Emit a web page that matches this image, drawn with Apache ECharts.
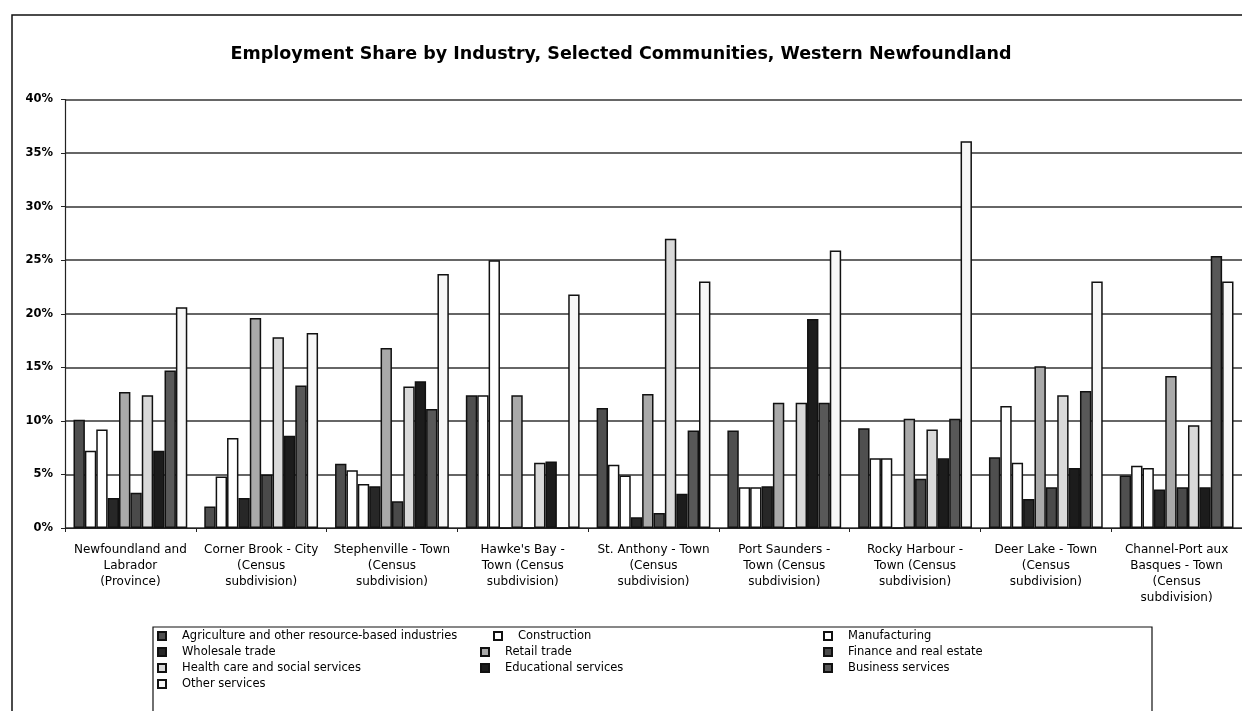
<!DOCTYPE html>
<html>
<head>
<meta charset="utf-8">
<script src="https://cdn.jsdelivr.net/npm/echarts@6/dist/echarts.min.js"></script>
<style>
html,body{margin:0;padding:0;background:#fff;}
#chart{width:1242px;height:711px;}
</style>
</head>
<body>
<div id="chart"></div>
<script>
const categories = [
  "Newfoundland and\nLabrador\n(Province)",
  "Corner Brook - City\n(Census\nsubdivision)",
  "Stephenville - Town\n(Census\nsubdivision)",
  "Hawke's Bay -\nTown (Census\nsubdivision)",
  "St. Anthony - Town\n(Census\nsubdivision)",
  "Port Saunders -\nTown (Census\nsubdivision)",
  "Rocky Harbour -\nTown (Census\nsubdivision)",
  "Deer Lake - Town\n(Census\nsubdivision)",
  "Channel-Port aux\nBasques - Town\n(Census\nsubdivision)"
];
const seriesNames = [
  "Agriculture and other resource-based industries",
  "Construction",
  "Manufacturing",
  "Wholesale trade",
  "Retail trade",
  "Finance and real estate",
  "Health care and social services",
  "Educational services",
  "Business services",
  "Other services"
];
const agriculture   = [10.1, 2.0, 6.0, 12.4, 11.2, 9.1, 9.3, 6.6, 4.9];
const construction  = [7.2, 4.8, 5.4, 12.4, 5.9, 3.8, 6.5, 11.4, 5.8];
const manufacturing = [9.2, 8.4, 4.1, 25.0, 4.9, 3.8, 6.5, 6.1, 5.6];
const wholesale     = [2.8, 2.8, 3.9, 0, 1.0, 3.9, 0, 2.7, 3.6];
const retail        = [12.7, 19.6, 16.8, 12.4, 12.5, 11.7, 10.2, 15.1, 14.2];
const finance       = [3.3, 5.0, 2.5, 0, 1.4, 0, 4.6, 3.8, 3.8];
const health        = [12.4, 17.8, 13.2, 6.1, 27.0, 11.7, 9.2, 12.4, 9.6];
const educational   = [7.2, 8.6, 13.7, 6.2, 3.2, 19.5, 6.5, 5.6, 3.8];
const business      = [14.7, 13.3, 11.1, 0, 9.1, 11.7, 10.2, 12.8, 25.4];
const otherServices = [20.6, 18.2, 23.7, 21.8, 23.0, 25.9, 36.1, 23.0, 23.0];
const yTicks = [0, 5, 10, 15, 20, 25, 30, 35, 40];

const seriesData = [agriculture, construction, manufacturing, wholesale, retail,
  finance, health, educational, business, otherServices];
const colors = ['#4f4f4f', '#ffffff', '#ffffff', '#272727', '#a9a9a9',
  '#4a4a4a', '#d9d9d9', '#1c1c1c', '#585858', '#f7f7f7'];
// legend placement (style only)
const legendPos = [
  [157, 630], [493, 630], [823, 630],
  [157, 646], [480, 646], [823, 646],
  [157, 662], [480, 662], [823, 662],
  [157, 678]
];

const chart = echarts.init(document.getElementById('chart'), null, {renderer: 'canvas'});
const font = '"DejaVu Sans", "Liberation Sans", Arial, sans-serif';

const option = {
  backgroundColor: '#fff',
  animation: false,
  title: {
    text: 'Employment Share by Industry, Selected Communities, Western Newfoundland',
    left: 'center',
    top: 40,
    textStyle: {fontFamily: font, fontSize: 17.5, fontWeight: 'bold', color: '#000'}
  },
  graphic: [
    {type: 'rect', shape: {x: 12, y: 15, width: 1260, height: 720},
      style: {fill: 'none', stroke: '#111', lineWidth: 1.5}, silent: true, z: 0},
    {type: 'rect', shape: {x: 153, y: 627, width: 999, height: 100},
      style: {fill: 'none', stroke: '#111', lineWidth: 1.2}, silent: true, z: 0}
  ],
  legend: seriesNames.map((n, i) => ({
    data: [n],
    left: legendPos[i][0],
    top: legendPos[i][1],
    padding: 0,
    itemWidth: 8,
    itemHeight: 8,
    icon: 'rect',
    selectedMode: false,
    textStyle: {fontFamily: font, fontSize: 11.5, color: '#000', padding: [0, 0, 0, 11]}
  })),
  grid: {left: 65, top: 99.5, width: 1181, height: 428.5, containLabel: false},
  xAxis: {
    type: 'category',
    data: categories,
    axisLine: {lineStyle: {color: '#222', width: 1.2}},
    axisTick: {show: true, length: 4, lineStyle: {color: '#222'}},
    axisLabel: {fontFamily: font, fontSize: 12, color: '#000', margin: 14, lineHeight: 16, interval: 0}
  },
  yAxis: {
    type: 'value',
    min: yTicks[0],
    max: yTicks[yTicks.length - 1],
    interval: 5,
    axisLine: {show: true, lineStyle: {color: '#222', width: 1.2}},
    axisTick: {show: true, length: 4, lineStyle: {color: '#222'}},
    axisLabel: {fontFamily: font, fontSize: 11.5, fontWeight: 'bold', color: '#000', margin: 12,
      formatter: v => v + '%'},
    splitLine: {lineStyle: {color: '#333', width: 1.6}}
  },
  series: seriesNames.map((n, i) => ({
    name: n,
    type: 'bar',
    data: seriesData[i],
    barGap: '0%',
    barCategoryGap: '13%',
    itemStyle: {color: colors[i], borderColor: '#111', borderWidth: 1.5}
  }))
};
chart.setOption(option);
</script>
</body>
</html>
